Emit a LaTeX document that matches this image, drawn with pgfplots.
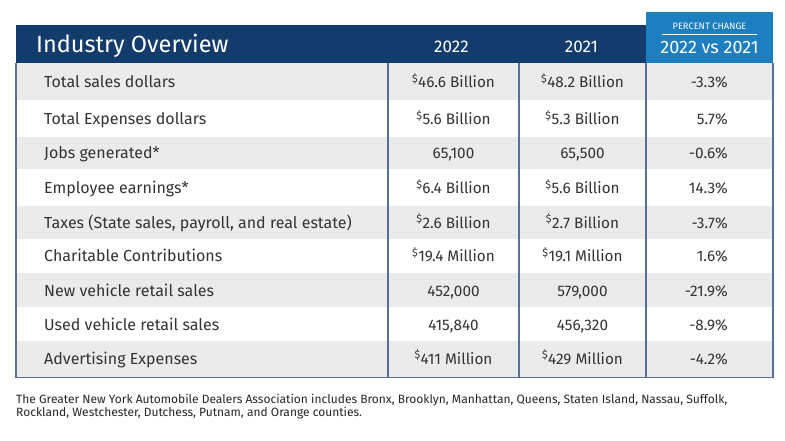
\documentclass[border=0pt]{standalone}
\usepackage{pgfplots}
\pgfplotsset{compat=1.18}
\usepackage{pgfplotstable}
\usepackage{fontspec}
\setmainfont{Fira Sans}
\definecolor{navy}{HTML}{133B6C}
\definecolor{sky}{HTML}{1D7EC0}
\definecolor{rowgray}{HTML}{EBEBEB}
\definecolor{rulec}{HTML}{5A6F96}
\definecolor{txt}{HTML}{333333}
\newcommand\D{\textsuperscript{\$}}

\pgfplotstableread[col sep=semicolon]{
y;label;a;b;c
88.0;Total sales dollars;\D46.6 Billion;\D48.2 Billion;-3.3\%
124.5;Total Expenses dollars;\D5.6 Billion;\D5.3 Billion;5.7\%
159.0;Jobs generated*;65,100;65,500;-0.6\%
193.5;Employee earnings*;\D6.4 Billion;\D5.6 Billion;14.3\%
228.0;Taxes (State sales, payroll, and real estate);\D2.6 Billion;\D2.7 Billion;-3.7\%
261.5;Charitable Contributions;\D19.4 Million;\D19.1 Million;1.6\%
296.0;New vehicle retail sales;452,000;579,000;-21.9\%
330.5;Used vehicle retail sales;415,840;456,320;-8.9\%
364.0;Advertising Expenses;\D411 Million;\D429 Million;-4.2\%
}\rows

\begin{document}
\begin{tikzpicture}
\begin{axis}[
  scale only axis, width=785pt, height=441pt,
  xmin=0, xmax=785, ymin=0, ymax=441, y dir=reverse,
  hide axis, clip=false,
]
% background
\addplot[fill=white, draw=none] coordinates {(0,0)(785,0)(785,441)(0,441)} --cycle;
% header bands
\addplot[fill=navy, draw=none] coordinates {(16,25)(646,25)(646,63)(16,63)} --cycle;
\addplot[fill=sky, draw=none] coordinates {(646,12)(773,12)(773,63)(646,63)} --cycle;
% gray rows
\addplot[fill=rowgray, draw=none] coordinates {(16,63)(773,63)(773,100)(16,100)} --cycle;
\addplot[fill=rowgray, draw=none] coordinates {(16,137)(773,137)(773,169.5)(16,169.5)} --cycle;
\addplot[fill=rowgray, draw=none] coordinates {(16,206)(773,206)(773,238.5)(16,238.5)} --cycle;
\addplot[fill=rowgray, draw=none] coordinates {(16,273)(773,273)(773,306.5)(16,306.5)} --cycle;
\addplot[fill=rowgray, draw=none] coordinates {(16,341)(773,341)(773,377.5)(16,377.5)} --cycle;
% borders
\addplot[rulec, line width=1.3pt] coordinates {(16,63)(16,377.5)(773,377.5)(773,63)};
\addplot[rulec, line width=1.3pt] coordinates {(388,63)(388,377.5)};
\addplot[rulec, line width=1.3pt] coordinates {(519,63)(519,377.5)};
\addplot[rulec, line width=1.3pt] coordinates {(646,63)(646,377.5)};
% rule under PERCENT CHANGE
\addplot[white, line width=0.9pt] coordinates {(662,34.3)(757,34.3)};

% table text
\addplot[draw=none, mark=none, nodes near coords, point meta=explicit symbolic,
  every node near coord/.append style={anchor=base west, inner sep=0pt, text=txt, font=\fontsize{16}{19}\selectfont}]
  table[x expr=44, y=y, meta=label] {\rows};
\addplot[draw=none, mark=none, nodes near coords, point meta=explicit symbolic,
  every node near coord/.append style={anchor=base, inner sep=0pt, text=txt, font=\fontsize{15.3}{18}\selectfont}]
  table[x expr=453.5, y=y, meta=a] {\rows};
\addplot[draw=none, mark=none, nodes near coords, point meta=explicit symbolic,
  every node near coord/.append style={anchor=base, inner sep=0pt, text=txt, font=\fontsize{15.3}{18}\selectfont}]
  table[x expr=582.5, y=y, meta=b] {\rows};
\addplot[draw=none, mark=none, nodes near coords, point meta=explicit symbolic,
  every node near coord/.append style={anchor=base east, inner sep=0pt, text=txt, font=\fontsize{15.3}{18}\selectfont}]
  table[x expr=728, y=y, meta=c] {\rows};

% headers
\node[anchor=base west, inner sep=0pt, text=white, font=\fontsize{23.5}{27}\selectfont] at (axis cs:36,52.3) {Industry Overview};
\node[anchor=base, inner sep=0pt, text=white, font=\fontsize{17}{20}\selectfont] at (axis cs:451.5,53) {2022};
\node[anchor=base, inner sep=0pt, text=white, font=\fontsize{17}{20}\selectfont] at (axis cs:581.5,53) {2021};
\node[anchor=base, inner sep=0pt, text=white, font=\fontsize{18}{21}\selectfont] at (axis cs:709.5,53.3) {2022 vs 2021};
\node[anchor=base, inner sep=0pt, text=white, font=\fontsize{9.3}{11}\selectfont] at (axis cs:709.5,29.5) {PERCENT CHANGE};

% footnote
\node[anchor=base west, inner sep=0pt, text=black!85, font=\fontsize{12}{14}\selectfont] at (axis cs:16,403.5) {The Greater New York Automobile Dealers Association includes Bronx, Brooklyn, Manhattan, Queens, Staten Island, Nassau, Suffolk,};
\node[anchor=base west, inner sep=0pt, text=black!85, font=\fontsize{12}{14}\selectfont] at (axis cs:16,416.8) {Rockland, Westchester, Dutchess, Putnam, and Orange counties.};
\end{axis}
\end{tikzpicture}
\end{document}
